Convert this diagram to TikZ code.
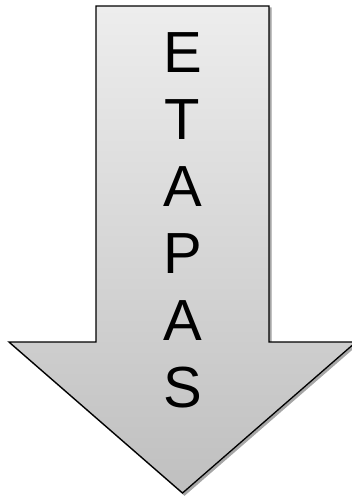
\documentclass[tikz,border=0pt]{standalone}
\usepackage{fontspec}
\setmainfont{Liberation Sans}
\begin{document}
\begin{tikzpicture}[x=1pt,y=-1pt,
	arrowshape/.style={draw,line width=1.3pt,line join=miter,top color=gray!14,bottom color=gray!50},
	shadowshape/.style={fill=gray!70,draw=gray!70,line width=1.3pt},
	letter/.style={font=\fontsize{58}{58}\selectfont,anchor=base,inner sep=0pt}]
	\useasboundingbox (0,0) rectangle (351,498);
	\fill[shadowshape,shift={(2,2)}] (96,6) -- (269,6) -- (269,342) -- (356,342) -- (182.5,493) -- (9,342) -- (96,342) -- cycle;
	\path[arrowshape] (96,6) -- (269,6) -- (269,342) -- (356,342) -- (182.5,493) -- (9,342) -- (96,342) -- cycle;
	\foreach \c [count=\i] in {E,T,A,P,A,S} \node[letter] (l\i) at (182.5,5+67*\i) {\c};
\end{tikzpicture}
\end{document}
